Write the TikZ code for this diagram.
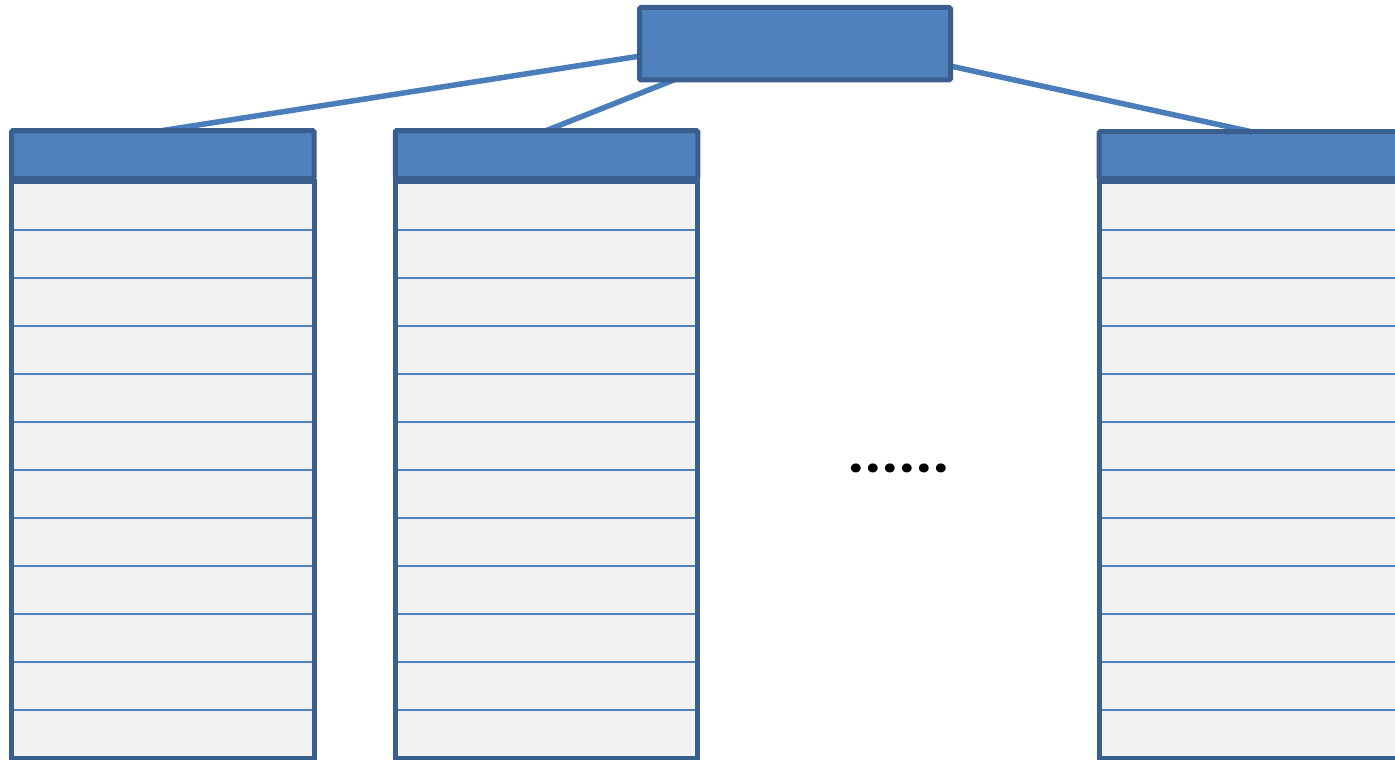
\documentclass[tikz,border=0pt]{standalone}
\usepackage{fontspec}
\setmainfont{Liberation Sans}
\newfontfamily\dotfont{Poppins}
\newcommand\onedot{\makebox[17pt]{.}}
\definecolor{hdrfill}{HTML}{4F81BD}
\definecolor{hdrdraw}{HTML}{3A5F8E}
\definecolor{linkc}{HTML}{4A7EBB}
\definecolor{bodyfill}{HTML}{F2F2F2}
\pgfdeclarelayer{bg}
\pgfsetlayers{bg,main}
\begin{document}
\begin{tikzpicture}[x=1pt,y=-1pt,
  hdr/.style={draw=hdrdraw,fill=hdrfill,line width=5pt,rounded corners=1.5pt,inner sep=0pt,outer sep=0pt,minimum width=302.5pt,minimum height=48pt},
  colbody/.style={draw=hdrdraw,fill=bodyfill,line width=5pt,inner sep=0pt,outer sep=0pt,minimum width=302.5pt,minimum height=577pt},
  rowline/.style={draw=hdrfill,line width=2pt},
  link/.style={draw=linkc,line width=5.5pt}]
\useasboundingbox (0,0) rectangle (1395,760);
\clip (0,0) rectangle (1395,760);
% columns
\foreach \n/\x/\ht in {1/162.75/48, 2/546.5/48, 3/1250.25/47} {
  \node[colbody] (b\n) at (\x,469.5) {};
  \foreach \k in {0,...,10} {
    \pgfmathsetmacro{\off}{49+48*\k}
    \draw[rowline] ([yshift=-\off pt]b\n.north west) -- ([yshift=-\off pt]b\n.north east);
  }
  \draw[draw=hdrdraw,line width=5pt] (b\n.north west) rectangle (b\n.south east);
  \node[hdr,minimum height=\ht pt,anchor=south] (h\n) at (\x,178.5) {};
}
% root
\node[hdr,minimum width=311pt,minimum height=72.5pt] (root) at (795,43.75) {};
\coordinate (hub) at (794.5,32);
\begin{pgfonlayer}{bg}
  \draw[link] (hub) -- (h1.north);
  \draw[link] (hub) -- (h2.north);
  \draw[link] (hub) -- (h3.north);
\end{pgfonlayer}
% ellipsis
\node[font=\dotfont\bfseries\fontsize{48}{48}\selectfont,inner sep=0pt,anchor=base] (dots) at (899,472.5) {\onedot\onedot\onedot\onedot\onedot\onedot};
\end{tikzpicture}
\end{document}
